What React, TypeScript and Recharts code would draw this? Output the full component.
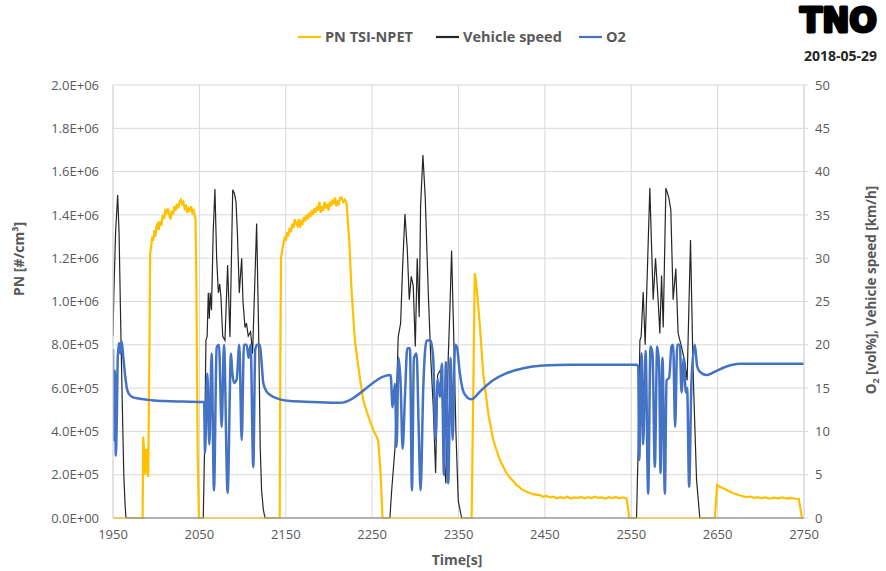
import { LineChart, Line, XAxis, YAxis, CartesianGrid } from 'recharts';

// [time s, value] samples, one list per channel
const pnSeries: [number, number][] = [
  [1950, 0], [1984.3, 0], [1985, 3.75e5], [1986.3, 2.9e5], [1987.5, 2.0e5], [1988.5, 3.2e5],
  [1989.5, 2.6e5], [1990.8, 1.9e5], [1992.2, 8e5], [1993, 1.22e6], [1994, 1.25e6], [1995.5, 1.3e6],
  [1996.5, 1.28e6], [1998, 1.33e6], [1999, 1.3e6], [2000.5, 1.35e6], [2002, 1.36e6], [2003, 1.33e6],
  [2004.5, 1.37e6], [2006, 1.35e6], [2007.5, 1.4e6], [2009, 1.38e6], [2010.5, 1.42e6], [2012, 1.41e6],
  [2013.5, 1.43e6], [2015, 1.4e6], [2016.5, 1.38e6], [2018, 1.42e6], [2019.5, 1.4e6], [2021, 1.44e6],
  [2022.5, 1.42e6], [2024, 1.45e6], [2025.5, 1.43e6], [2027, 1.46e6], [2028.5, 1.47e6], [2030, 1.45e6],
  [2031.5, 1.46e6], [2033, 1.43e6], [2034.5, 1.44e6], [2036, 1.41e6], [2037.5, 1.43e6], [2039, 1.42e6],
  [2040.5, 1.44e6], [2042, 1.41e6], [2043.5, 1.42e6], [2045.5, 1.38e6], [2046.5, 1.1e6], [2048, 3e5],
  [2049.5, 0], [2143, 0], [2143.8, 8e5], [2144.5, 1.2e6], [2146, 1.24e6], [2147.5, 1.27e6],
  [2149, 1.3e6], [2150, 1.28e6], [2151.5, 1.32e6], [2153, 1.3e6], [2154.5, 1.34e6], [2156, 1.32e6],
  [2157.5, 1.36e6], [2159, 1.34e6], [2160.5, 1.38e6], [2162, 1.36e6], [2163.5, 1.35e6], [2165, 1.38e6],
  [2166.5, 1.34e6], [2168, 1.37e6], [2169.5, 1.36e6], [2171, 1.39e6], [2172.5, 1.37e6], [2174, 1.4e6],
  [2175.5, 1.38e6], [2177, 1.41e6], [2178.5, 1.39e6], [2180, 1.42e6], [2181.5, 1.4e6], [2183, 1.43e6],
  [2184.5, 1.41e6], [2186, 1.44e6], [2187.5, 1.42e6], [2189, 1.46e6], [2190.5, 1.41e6], [2192, 1.44e6],
  [2193.5, 1.42e6], [2195, 1.46e6], [2196.5, 1.43e6], [2198, 1.45e6], [2199.5, 1.42e6], [2201, 1.46e6],
  [2202.5, 1.44e6], [2204, 1.47e6], [2205.5, 1.45e6], [2207, 1.48e6], [2208.5, 1.44e6], [2210, 1.46e6],
  [2211.5, 1.45e6], [2213, 1.48e6], [2214.7, 1.48e6], [2216.5, 1.46e6], [2218.5, 1.47e6], [2220.5, 1.45e6],
  [2223.5, 1.28e6], [2226.2, 1.05e6], [2230, 8.2e5], [2235, 6.7e5], [2239.7, 5.45e5], [2245.5, 4.7e5],
  [2251.3, 4.07e5], [2257, 3.6e5], [2259.8, 2.07e5], [2262, 0], [2365.2, 0], [2367, 5.5e5],
  [2368.8, 1.13e6], [2370, 1.1e6], [2371.6, 1.04e6], [2374.8, 8.84e5], [2378.6, 6.68e5], [2384.4, 4.84e5],
  [2390.2, 3.6e5], [2397.9, 2.68e5], [2405.7, 2.06e5], [2410, 1.85e5], [2413, 1.72e5], [2417.2, 1.52e5],
  [2420, 1.45e5], [2423, 1.33e5], [2428.8, 1.21e5], [2432, 1.17e5], [2436, 1.1e5], [2440, 1.08e5],
  [2444.2, 1.06e5], [2448, 9.8e4], [2452, 1.02e5], [2456, 9.5e4], [2460, 9.9e4], [2463.5, 9.1e4],
  [2468, 9.6e4], [2472, 9.2e4], [2476, 9.8e4], [2480, 9.0e4], [2484, 9.5e4], [2488, 9.3e4],
  [2492, 9.7e4], [2496, 9.1e4], [2500, 9.6e4], [2504, 9.2e4], [2508, 9.8e4], [2512, 9.3e4],
  [2516, 9.5e4], [2520, 9.0e4], [2524, 9.6e4], [2528, 9.2e4], [2532, 9.7e4], [2536, 9.1e4],
  [2540, 9.5e4], [2544.5, 9.1e4], [2546.5, 4e4], [2547.6, 0], [2646.8, 0], [2648.5, 1.0e5],
  [2649.5, 1.52e5], [2652, 1.45e5], [2656.4, 1.37e5], [2660, 1.3e5], [2664, 1.22e5], [2668, 1.14e5],
  [2672, 1.1e5], [2676, 1.04e5], [2680, 1.0e5], [2684, 9.7e4], [2688, 9.9e4], [2692, 9.3e4],
  [2696, 9.6e4], [2700, 9.2e4], [2705, 9.5e4], [2710, 9.0e4], [2715, 9.4e4], [2720, 9.1e4],
  [2725, 9.5e4], [2730, 9.0e4], [2735, 9.3e4], [2740, 8.9e4], [2744, 8.8e4], [2746, 4e4],
  [2747.5, 0], [2750, 0],
];

const speedSeries: [number, number][] = [
  [1950, 21], [1951, 26], [1953, 33], [1955.4, 37.3], [1957, 33], [1959, 22], [1961, 12],
  [1962.5, 5], [1964, 1.5], [1965, 0], [2054.5, 0], [2056, 8], [2057.6, 20.5], [2059, 21],
  [2060.3, 26], [2061.5, 23], [2062.5, 26], [2064, 24], [2066, 33], [2068, 38], [2070, 30],
  [2072, 26], [2073.5, 27], [2075, 25.5], [2077, 21], [2079.6, 20.5], [2082.7, 29.2], [2085.4, 20.9],
  [2088.6, 37.9], [2090.5, 37.5], [2092.4, 36.5], [2094, 33], [2096.2, 26], [2099, 30], [2100.5, 25],
  [2102.8, 22], [2104.5, 22.5], [2106.6, 21], [2109.3, 21.5], [2111.6, 19], [2116.3, 34],
  [2118.5, 22], [2120.5, 8], [2122, 3.2], [2124, 1], [2126, 0], [2270.6, 0], [2272.5, 3],
  [2276.4, 8], [2280.2, 20.9], [2283, 22.5], [2285.3, 29], [2288, 35.1], [2290.7, 31], [2293, 25.2],
  [2295.3, 27.9], [2297.6, 26.8], [2300, 19.8], [2302.2, 30], [2304.5, 23.2], [2306.1, 36],
  [2308.8, 41.9], [2311.5, 37], [2315, 26], [2318, 18.2], [2320.7, 13], [2323.5, 5.2], [2325.8, 16.5],
  [2328.5, 17], [2330.4, 16.5], [2333.1, 7], [2335.4, 4], [2338.1, 18.5], [2340, 24], [2342, 30.9],
  [2344.7, 20], [2347, 10], [2349.7, 2], [2353.6, 0], [2556.1, 0], [2558, 8], [2560, 20.5],
  [2561.5, 21], [2563.8, 26.1], [2566.1, 20], [2571.5, 38.1], [2575.4, 25.2], [2578.1, 30],
  [2581.2, 25], [2583.1, 21.3], [2585.1, 28], [2587, 22], [2590.1, 38.1], [2593.5, 37],
  [2595.8, 35.6], [2598.5, 25.2], [2601.6, 28.8], [2604.3, 21.3], [2608.2, 19.8], [2612, 18],
  [2614.7, 15.9], [2618.6, 32.1], [2621.6, 17], [2625.6, 4.4], [2629.4, 0], [2750, 0],
];

const o2Series: [number, number][] = [
  [1950, 19.5], [1951, 9], [1952, 17], [1953.3, 7.2], [1954.5, 12], [1955.5, 18.5], [1957, 20.2],
  [1958.5, 19], [1960, 20.4], [1962, 18.5], [1964, 16.5], [1966, 15], [1968, 14.4], [1972, 14],
  [1980, 13.8], [1995, 13.6], [2010, 13.5], [2030, 13.45], [2055.5, 13.4], [2056.5, 7.5],
  [2059.2, 16.7], [2061.5, 8.5], [2064.2, 19], [2066.9, 3.2], [2070, 19.7], [2072.7, 20],
  [2075.8, 10.5], [2078.5, 20], [2082.7, 2.9], [2086.6, 19], [2088, 17], [2090, 15.6], [2093.2, 16],
  [2096.2, 20], [2099, 9], [2101.6, 20], [2104.7, 20], [2107, 18.5], [2109.3, 20], [2112.4, 5.9],
  [2114.7, 19.5], [2117, 20], [2120.1, 20], [2122, 18], [2124, 15.6], [2127.9, 14.6], [2132, 14.2],
  [2143.3, 13.7], [2155, 13.5], [2180, 13.4], [2212.7, 13.3], [2271.4, 16.5], [2273.7, 12.8],
  [2276.4, 15.5], [2278.3, 8.2], [2280.6, 18.5], [2283, 15.5], [2285.3, 8], [2288, 14],
  [2290.7, 19.6], [2293.8, 19.6], [2296.1, 3.2], [2298.4, 18.5], [2301.5, 19], [2303.8, 10.8],
  [2306.1, 3.2], [2309.2, 15], [2313.1, 20.5], [2317.7, 20.5], [2320.7, 18.5], [2323.5, 9],
  [2325.8, 16], [2328.5, 14], [2330.8, 17.8], [2333.1, 5], [2335.4, 18], [2338.1, 4],
  [2340.9, 18.5], [2343.2, 9], [2346, 20], [2348, 19.8], [2351.6, 16.7], [2355, 14.8],
  [2359.4, 14], [2365.2, 13.7], [2374.8, 14.6], [2390, 15.9], [2405, 16.7], [2425, 17.3],
  [2448, 17.6], [2480, 17.7], [2556.1, 17.7], [2558, 17.5], [2559.2, 6.7], [2561.9, 19],
  [2563.8, 8.5], [2566.6, 19.3], [2569.6, 2.8], [2572.3, 19.8], [2574.6, 19], [2577.3, 5.9],
  [2580, 19.8], [2582.3, 17.5], [2583.9, 5.2], [2586.2, 18.5], [2588.9, 2.8], [2590.9, 15.9],
  [2593.9, 16.2], [2596.6, 19.8], [2598.5, 20], [2600.8, 10.5], [2603.2, 20], [2606.3, 20],
  [2608.2, 14.5], [2610.9, 18.5], [2613.2, 14.5], [2614.7, 15], [2617, 3.6], [2619.8, 16],
  [2623.6, 20], [2626.3, 17.5], [2629.4, 16.9], [2637.2, 16.5], [2644.9, 16.8], [2660.3, 17.5],
  [2675.7, 17.8], [2750, 17.8],
];

const timeTicks = [1950, 2050, 2150, 2250, 2350, 2450, 2550, 2650, 2750];
const pnTicks = [0, 2e5, 4e5, 6e5, 8e5, 1e6, 1.2e6, 1.4e6, 1.6e6, 1.8e6, 2e6];
const rightTicks = [0, 5, 10, 15, 20, 25, 30, 35, 40, 45, 50];

const legendItems = [
  { name: 'PN TSI-NPET', color: '#FFC000', x: 298 },
  { name: 'Vehicle speed', color: '#262626', x: 436 },
  { name: 'O2', color: '#4472C4', x: 579 },
];

const toRows = (s: [number, number][]) => s.map(([t, v]) => ({ t, v }));

// Excel-style scientific label, e.g. 1.4E+06
const sci = (v: number) => {
  const [m, e] = v.toExponential(1).split('e');
  return `${m}E${e[0]}${e.slice(1).padStart(2, '0')}`;
};

const FONT = '"Open Sans", "Liberation Sans", sans-serif';
const GRID = '#D9D9D9';
const TEXT = '#595959';

export default function App() {
  const tick = { fontSize: 13, fill: TEXT, fontFamily: FONT };
  return (
    <div style={{ position: 'absolute', left: 0, top: 0, width: 886, height: 571, background: '#fff' }}>
      <LineChart width={886} height={571} margin={{ top: 85, right: 0, bottom: 0, left: 0 }}>
        <CartesianGrid stroke={GRID} strokeWidth={1} yAxisId="pn" />
        <XAxis
          dataKey="t"
          type="number"
          domain={[1950, 2750]}
          ticks={timeTicks}
          interval={0}
          allowDataOverflow
          height={53}
          tick={tick}
          tickLine={false}
          tickSize={0}
          tickMargin={12}
          axisLine={{ stroke: GRID }}
        />
        <YAxis
          yAxisId="pn"
          domain={[0, 2e6]}
          ticks={pnTicks}
          interval={0}
          width={113}
          tick={tick}
          tickFormatter={sci}
          tickLine={false}
          tickSize={0}
          tickMargin={14}
          axisLine={{ stroke: GRID }}
        />
        <YAxis
          yAxisId="right"
          orientation="right"
          domain={[0, 50]}
          ticks={rightTicks}
          interval={0}
          width={82}
          tick={{ ...tick, textAnchor: 'start' }}
          tickSize={4}
          tickMargin={7}
          tickLine={{ stroke: GRID }}
          axisLine={{ stroke: GRID }}
        />
        <Line
          yAxisId="pn"
          data={toRows(pnSeries)}
          dataKey="v"
          type="linear"
          stroke="#FFC000"
          strokeWidth={2.2}
          dot={false}
          isAnimationActive={false}
        />
        <Line
          yAxisId="right"
          data={toRows(speedSeries)}
          dataKey="v"
          type="linear"
          stroke="#262626"
          strokeWidth={1.2}
          dot={false}
          isAnimationActive={false}
        />
        <Line
          yAxisId="right"
          data={toRows(o2Series)}
          dataKey="v"
          type="monotone"
          stroke="#4472C4"
          strokeWidth={2.5}
          dot={false}
          isAnimationActive={false}
        />
      </LineChart>

      <svg
        width={886}
        height={571}
        style={{ position: 'absolute', left: 0, top: 0, pointerEvents: 'none' }}
        fontFamily={FONT}
      >
        {/* legend */}
        {legendItems.map((item) => (
          <g key={item.name}>
            <line x1={item.x} x2={item.x + 23} y1={37} y2={37} stroke={item.color} strokeWidth={2.2} />
            <text x={item.x + 27} y={42} fontSize={14.5} fontWeight={700} fill={TEXT}>
              {item.name}
            </text>
          </g>
        ))}

        {/* logo and date */}
        <text
          x={800}
          y={32}
          fontSize={33}
          fontFamily='"DejaVu Sans", sans-serif'
          fontWeight={700}
          fill="#000"
          stroke="#000"
          strokeWidth={3}
          strokeLinejoin="round"
          textLength={77}
          lengthAdjust="spacingAndGlyphs"
        >
          TNO
        </text>
        <text x={877} y={61} fontSize={14} fontWeight={700} fill="#262626" textAnchor="end">
          2018-05-29
        </text>

        {/* axis titles */}
        <text x={457} y={565} fontSize={14} fontWeight={700} fill={TEXT} textAnchor="middle">
          Time[s]
        </text>
        <text
          transform="translate(24 259) rotate(-90)"
          fontSize={14}
          fontWeight={700}
          fill={TEXT}
          textAnchor="middle"
        >
          PN [#/cm³]
        </text>
        <text
          transform="translate(876 290) rotate(-90)"
          fontSize={13.5}
          fontWeight={700}
          fill={TEXT}
          textAnchor="middle"
        >
          O<tspan fontSize={9} dy={3}>2</tspan>
          <tspan dy={-3}> [vol%], Vehicle speed [km/h]</tspan>
        </text>
      </svg>
    </div>
  );
}
